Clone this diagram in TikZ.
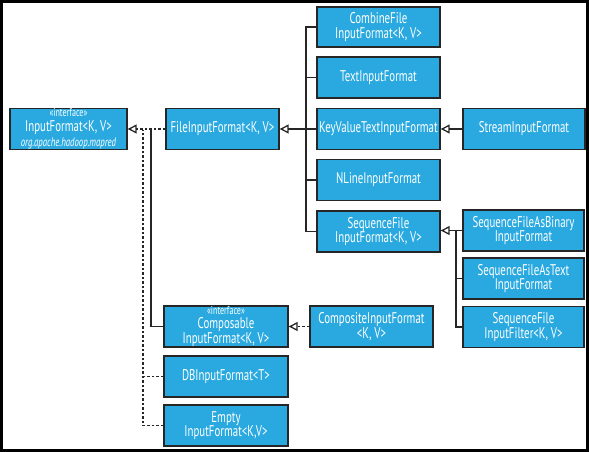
\documentclass[tikz,border=0pt]{standalone}
\usepackage{fontspec}
\setmainfont[FakeStretch=0.7]{PT Sans}
\usetikzlibrary{arrows.meta}
\definecolor{ablue}{HTML}{29A9E0}
\tikzset{
  box/.style={draw=black!85, line width=1.4pt, fill=ablue, text=white, align=center,
    inner sep=0pt, minimum height=41pt, font=\fontsize{15.5}{14.5}\selectfont},
  conn/.style={line width=1.3pt, black!85},
  dsh/.style={conn, dash pattern=on 2.5pt off 2pt},
  inh/.style={-{Triangle[open, length=9pt, width=9pt, line width=1.3pt]}}
}
\newcommand{\stereo}{{\fontsize{11.5}{11}\selectfont «interface»}}
\begin{document}
\begin{tikzpicture}[x=1pt, y=-1pt]
\useasboundingbox (0,0) rectangle (589,452);
\draw[black, line width=3pt] (1.5,1.5) rectangle (587.5,450.5);
% left
\node[box, minimum width=117pt] (inf) at (68.5,129) {\stereo\\[0.5pt]InputFormat<K, V>\\[0pt]{\fontsize{12.5}{11}\selectfont\itshape org.apache.hadoop.mapred}};
\node[box, minimum width=113pt] (file) at (222.5,129) {FileInputFormat<K, V>};
% right column
\node[box, minimum width=123pt, minimum height=40pt] (combine) at (378.5,27) {CombineFile\\InputFormat<K, V>};
\node[box, minimum width=123pt] (text) at (378.5,77.5) {TextInputFormat};
\node[box, minimum width=123pt] (kv) at (378.5,129) {KeyValueTextInputFormat};
\node[box, minimum width=123pt] (nline) at (378.5,180) {NLineInputFormat};
\node[box, minimum width=123pt] (seq) at (378.5,231.5) {SequenceFile\\InputFormat<K, V>};
\node[box, minimum width=122pt] (stream) at (524,129) {StreamInputFormat};
\node[box, minimum width=121pt] (bin) at (523.5,230.5) {SequenceFileAsBinary\\InputFormat};
\node[box, minimum width=121pt] (astext) at (523.5,278.5) {SequenceFileAsText\\InputFormat};
\node[box, minimum width=121pt] (filter) at (523.5,327) {SequenceFile\\InputFilter<K, V>};
% bottom
\node[box, minimum width=124pt] (composable) at (226,326.5) {\stereo\\[-0.5pt]Composable\\[0pt]InputFormat<K, V>};
\node[box, minimum width=123pt] (comp) at (371.5,326.5) {CompositeInputFormat\\<K, V>};
\node[box, minimum width=124pt] (db) at (226,376.5) {DBInputFormat<T>};
\node[box, minimum width=124pt] (empty) at (226,425.5) {Empty\\InputFormat<K,V>};
% coordinates
\coordinate (t) at (306,129);
\coordinate (s) at (456,231);
\coordinate (j1) at (151,129);
\coordinate (j2) at (143,130);
% connectors
\draw[dsh, inh] (file.west) -- (inf.east);
\draw[conn] (composable.west) -| (j1);
\draw[dsh] (empty.west) -| (j2);
\draw[dsh] (db.west) -- (db.west -| j2);
\draw[conn, inh] (kv.west) -- (file.east);
\draw[conn] (combine.west) -| (t |- seq.west) -- (seq.west);
\draw[conn] (text.west) -- (text.west -| t);
\draw[conn] (nline.west) -- (nline.west -| t);
\draw[conn, inh] (stream.west) -- (kv.east);
\draw[conn, inh] (bin.west) -- (seq.east |- bin.west);
\draw[conn] (filter.west) -| (s);
\draw[conn] (astext.west) -- (astext.west -| s);
\draw[dsh, inh] (comp.west) -- (composable.east);
\end{tikzpicture}
\end{document}
